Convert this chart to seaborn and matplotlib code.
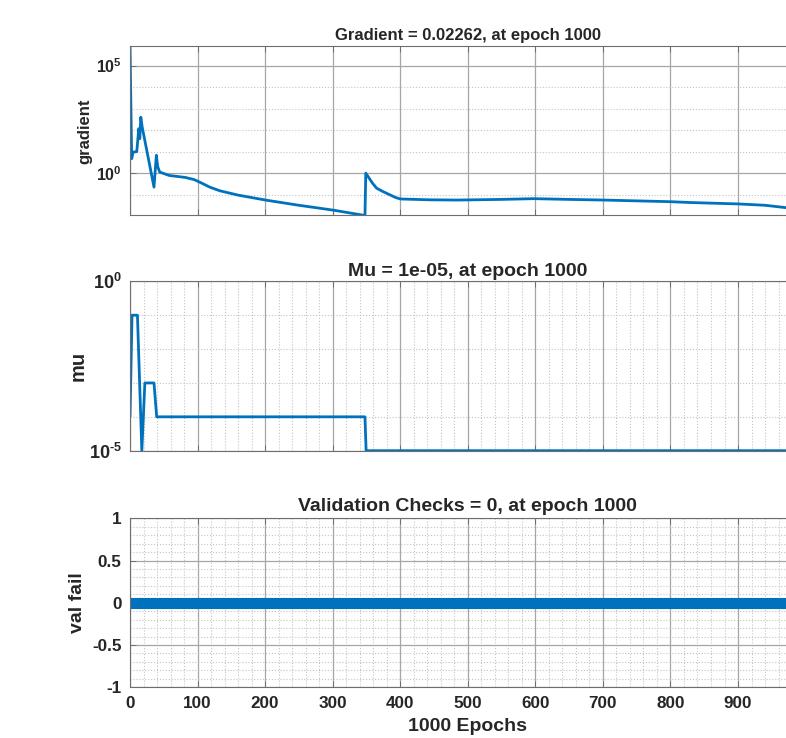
import matplotlib
matplotlib.use("Agg")
import matplotlib.pyplot as plt
import seaborn as sns

# values
grad_epoch = [0, 2.5, 4.5, 10, 13, 14.5, 16, 18, 35.5, 39, 41, 44, 58, 82, 95,
              104, 118, 133, 160, 202, 250, 301, 347.8, 349, 359, 365, 374, 393,
              400, 443, 484, 550, 597, 650, 701, 800, 829, 900, 940, 970, 1000]
grad_value = [7.8e5, 4.7, 9.5, 10, 117, 40, 400, 141, 0.224, 6.8, 2.0, 1.12, 0.78,
              0.63, 0.50, 0.37, 0.224, 0.151, 0.095, 0.055, 0.032, 0.019, 0.0107,
              1.0, 0.34, 0.2, 0.141, 0.074, 0.063, 0.0575, 0.056, 0.060, 0.065,
              0.060, 0.056, 0.047, 0.043, 0.037, 0.032, 0.025, 0.02262]

mu_epoch = [0, 1, 3, 11, 17.5, 22, 35.5, 39.5, 347.8, 349.5, 1000]
mu_value = [1e-4, 1e-3, 1e-1, 1e-1, 1e-5, 1e-3, 1e-3, 1e-4, 1e-4, 1e-5, 1e-5]

val_epoch = [0, 1000]
val_value = [0, 0]

epoch_ticks = [0, 100, 200, 300, 400, 500, 600, 700, 800, 900, 1000]

sns.set_theme(style="whitegrid")
plt.rcParams['font.family'] = ['Liberation Sans', 'DejaVu Sans']
plt.rcParams['font.weight'] = 'bold'
plt.rcParams['mathtext.fontset'] = 'custom'
plt.rcParams['mathtext.bf'] = 'Liberation Sans:bold'
plt.rcParams['mathtext.rm'] = 'Liberation Sans:bold'

blue = '#0072BD'
txt = '#262626'

fig = plt.figure(figsize=(7.86, 7.38), dpi=100)
fig.patch.set_facecolor('white')
ax1 = fig.add_axes([0.1654, 0.708, 0.8595, 0.229])
ax2 = fig.add_axes([0.1654, 0.3893, 0.8595, 0.2295])
ax3 = fig.add_axes([0.1654, 0.0687, 0.8595, 0.229])


def style(ax, size, xminor):
    ax.set_facecolor('white')
    ax.set_xlim(0, 1000)
    ax.set_xticks(epoch_ticks)
    if xminor:
        ax.set_xticks([e for e in range(0, 1001, 20) if e % 100], minor=True)
    ax.grid(which='major', color='#a6a6a6', lw=0.9, ls='-')
    ax.grid(which='minor', color='#c4c4c4', lw=0.8, ls=':')
    for s in ax.spines.values():
        s.set_color('#6e6e6e')
        s.set_linewidth(0.8)
    ax.tick_params(which='major', direction='in', length=4, width=0.7,
                   color='#6e6e6e', labelsize=size, labelcolor=txt, pad=6,
                   top=True, right=True, bottom=True, left=True)
    ax.tick_params(which='minor', length=0)


# gradient
sns.lineplot(x=grad_epoch, y=grad_value, ax=ax1, color=blue, linewidth=2)
ax1.set_yscale('log')
ax1.set_ylim(10 ** -1.97, 10 ** 5.89)
style(ax1, 11.5, False)
ax1.set_yticks([1, 1e5])
ax1.set_yticklabels([r'$\mathbf{10^{0}}$', r'$\mathbf{10^{5}}$'])
ax1.set_yticks([0.1, 10, 100, 1000, 10000], minor=True)
ax1.set_yticklabels([], minor=True)
ax1.set_xticklabels([])
ax1.set_title('Gradient = 0.02262, at epoch 1000', fontsize=12, fontweight='bold',
              color=txt, pad=5)
ax1.set_ylabel('gradient', fontsize=12, fontweight='bold', color=txt)
ax1.yaxis.set_label_coords(-0.055, 0.5)

# mu
sns.lineplot(x=mu_epoch, y=mu_value, ax=ax2, color=blue, linewidth=2)
ax2.set_yscale('log')
ax2.set_ylim(1e-5, 1)
style(ax2, 13, True)
ax2.set_yticks([1e-5, 1])
ax2.set_yticklabels([r'$\mathbf{10^{\text{-5}}}$', r'$\mathbf{10^{0}}$'])
ax2.set_yticks([1e-4, 1e-3, 1e-2, 1e-1], minor=True)
ax2.set_yticklabels([], minor=True)
ax2.set_xticklabels([])
ax2.set_title('Mu = 1e-05, at epoch 1000', fontsize=14, fontweight='bold',
              color=txt, pad=4)
ax2.set_ylabel('mu', fontsize=14.5, fontweight='bold', color=txt)
ax2.yaxis.set_label_coords(-0.062, 0.5)

# validation checks
sns.lineplot(x=val_epoch, y=val_value, ax=ax3, color=blue, linewidth=8,
             solid_capstyle='round')
ax3.set_ylim(-1, 1)
style(ax3, 12.3, True)
ax3.set_yticks([-1, -0.5, 0, 0.5, 1])
ax3.set_yticklabels(['-1', '-0.5', '0', '0.5', '1'])
ax3.set_yticks([v / 10 for v in range(-9, 10) if v % 5], minor=True)
ax3.set_xticklabels([str(e) for e in epoch_ticks])
ax3.set_title('Validation Checks = 0, at epoch 1000', fontsize=14,
              fontweight='bold', color=txt, pad=5)
ax3.set_ylabel('val fail', fontsize=14, fontweight='bold', color=txt)
ax3.yaxis.set_label_coords(-0.065, 0.5)
ax3.set_xlabel('1000 Epochs', fontsize=14, fontweight='bold', color=txt,
               labelpad=5)

fig.savefig('out.png', dpi=100)
